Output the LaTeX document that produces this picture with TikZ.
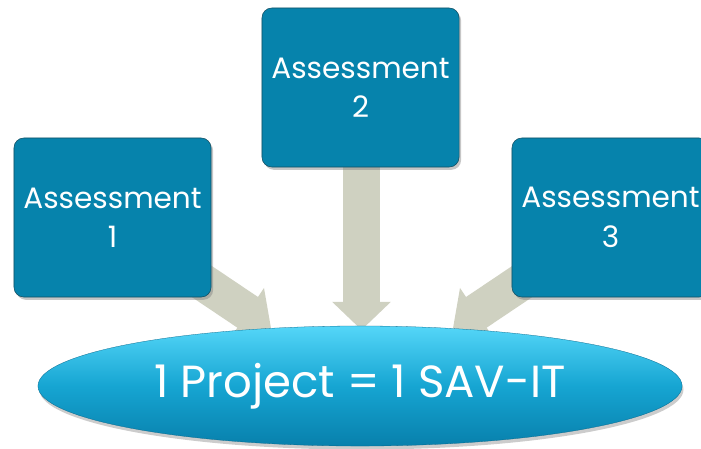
\documentclass[tikz,border=0pt]{standalone}
\usepackage{fontspec}
\setmainfont{Poppins}
\usetikzlibrary{shapes,arrows.meta,positioning,shadows,backgrounds}
\definecolor{boxblue}{RGB}{6,131,172}
\definecolor{boxedge}{RGB}{20,80,100}
\definecolor{feedgray}{RGB}{207,209,193}
\definecolor{ovaltop}{RGB}{84,214,248}
\definecolor{ovalmid}{RGB}{22,165,210}
\definecolor{ovalbottom}{RGB}{8,128,172}

\begin{document}
\begin{tikzpicture}[x=0.025cm,y=-0.025cm,
  assess/.style={draw=boxedge,thin,fill=boxblue,rounded corners=7pt,
    minimum width=4.925cm,minimum height=3.975cm,text=white,align=center,
    font=\fontsize{21}{28}\selectfont,
    drop shadow={shadow xshift=1.5pt,shadow yshift=-2pt,opacity=0.45}},
  feed/.style={draw=feedgray,line width=26.3pt,
    -{Triangle[width=40.5pt,length=20pt]}}]
  \useasboundingbox (0,0) rectangle (701,448);

  % Assessment boxes
  \node[assess] (a1) at (112.5,217.5) {Assessment\\1};
  \node[assess] (a2) at (360.5,87.5) {Assessment\\2};
  \node[assess] (a3) at (610.5,217.5) {Assessment\\3};

  % Project oval
  \node[ellipse,draw=ovalbottom!80!black,very thin,inner sep=0pt,
    minimum width=16.1cm,minimum height=3cm,
    top color=ovaltop,bottom color=ovalbottom,middle color=ovalmid,
    text=white,font=\fontsize{32}{38}\selectfont,
    drop shadow={shadow xshift=1pt,shadow yshift=-2.5pt,opacity=0.4}]
    (proj) at (360,386) {1 Project = 1 SAV-IT};

  % Arrow ends on the oval
  \coordinate (t1) at (271,328);
  \coordinate (t2) at (361.5,330);
  \coordinate (t3) at (453,328);

  % Arrows behind boxes and oval
  \begin{scope}[on background layer]
    \draw[feed] ([shift={(27.5,22.5)}]a1.center) -- (t1);
    \draw[feed] ([shift={(1,60)}]a2.center) -- (t2);
    \draw[feed] ([shift={(-26.5,22.5)}]a3.center) -- (t3);
  \end{scope}
\end{tikzpicture}
\end{document}
